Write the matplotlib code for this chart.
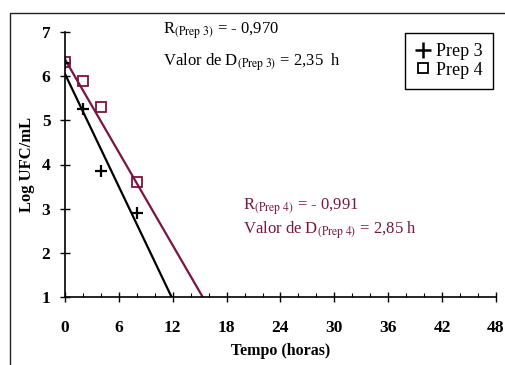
import matplotlib
matplotlib.use("Agg")
import matplotlib.pyplot as plt
import numpy as np
from matplotlib.lines import Line2D
from matplotlib.patches import Rectangle

plt.rcParams['font.family'] = ['Liberation Serif', 'DejaVu Serif']
plt.rcParams['mathtext.fontset'] = 'stix'

# tempo (h) e log UFC/mL
tempo = [0, 2, 4, 8]
prep3 = [6.30, 5.25, 3.85, 2.90]
prep4 = [6.32, 5.90, 5.30, 3.60]

# retas de regressao: inclinacao = -1/D
d_valores = [2.35, 2.85]
interceptos = [6.05, 6.38]
r_valores = ["0,970", "0,991"]

maroon = "#7a1440"

fig = plt.figure(figsize=(5.06, 3.65), dpi=100)
fig.patches.append(Rectangle((10 / 506, -0.1), 1.5, 1.1 - 13 / 365,
                             transform=fig.transFigure, fill=False,
                             edgecolor="#222222", linewidth=1.0))
ax = fig.add_axes([65 / 506, 1 - 297 / 365, 431 / 506, 265 / 365])

cores = ["black", maroon]
for d, b, c in zip(d_valores, interceptos, cores):
    t_fim = (b - 1) * d
    t = np.array([0, t_fim])
    ax.plot(t, b - t / d, color=c, linewidth=1.6)

ax.plot(tempo, prep3, linestyle="none", marker="+", markersize=9,
        markeredgewidth=1.6, color="black")
ax.plot(tempo, prep4, linestyle="none", marker="s", markersize=7,
        markerfacecolor="none", markeredgewidth=1.3, color=maroon)

ax.set_xlim(0, 48)
ax.set_ylim(1, 7)
ax.set_xticks(np.arange(0, 49, 6))
ax.set_xticks(np.arange(0, 49, 2), minor=True)
ax.set_yticks(np.arange(1, 8, 1))
for s in ["top", "right"]:
    ax.spines[s].set_visible(False)
for s in ["left", "bottom"]:
    ax.spines[s].set_linewidth(1.2)
ax.tick_params(which="major", direction="inout", length=7, width=1.0,
               labelsize=12.5, pad=13)
ax.tick_params(axis="y", which="major", pad=7)
ax.tick_params(which="minor", direction="in", length=3, width=0.8)
for lb in ax.get_xticklabels() + ax.get_yticklabels():
    lb.set_fontweight("bold")

ax.set_xlabel("Tempo (horas)", fontsize=11.5, fontweight="bold", labelpad=5)
ax.set_ylabel("Log UFC/mL", fontsize=12, fontweight="bold", labelpad=5)

ax.text(10.9, 7.04, r"R$_{\mathrm{(Prep\ 3)}}$ = - " + r_valores[0],
        fontsize=12, va="center", clip_on=False)
ax.text(10.9, 6.32, r"Valor de D$_{\mathrm{(Prep\ 3)}}$ = " +
        f"{d_valores[0]:.2f}".replace(".", ",") + "  h",
        fontsize=12, va="center", clip_on=False)
ax.text(19.8, 3.04, r"R$_{\mathrm{(Prep\ 4)}}$ = - " + r_valores[1],
        fontsize=12, va="center", color=maroon)
ax.text(19.8, 2.52, r"Valor de D$_{\mathrm{(Prep\ 4)}}$ = " +
        f"{d_valores[1]:.2f}".replace(".", ",") + " h",
        fontsize=12, va="center", color=maroon)

handles = [Line2D([], [], linestyle="none", marker="+", markersize=11,
                  markeredgewidth=1.8, color="black"),
           Line2D([], [], linestyle="none", marker="s", markersize=7,
                  markerfacecolor="none", markeredgewidth=1.3, color="black")]
leg = fig.legend(handles, ["Prep 3", "Prep 4"], loc="upper right",
                 bbox_to_anchor=(493 / 506, 1 - 33 / 365), fontsize=13,
                 frameon=True, fancybox=False, edgecolor="black",
                 framealpha=1, handlelength=0.9, handletextpad=0.3,
                 borderpad=0.55, labelspacing=0.1, borderaxespad=0)
leg.get_frame().set_linewidth(1.0)

fig.savefig("out.png", dpi=100)
